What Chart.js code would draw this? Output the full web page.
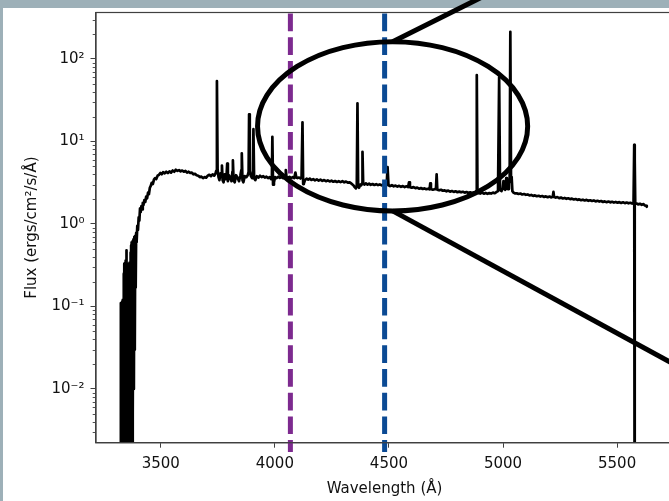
<!DOCTYPE html>
<html><head><meta charset="utf-8">
<script src="https://cdn.jsdelivr.net/npm/chart.js@4.4.0/dist/chart.umd.min.js"></script>
<style>
html,body{margin:0;padding:0;overflow:hidden;background:#9db0b8;width:669px;height:501px}
canvas{position:absolute;left:0;top:0}
</style></head><body>
<canvas id="c" width="700" height="501"></canvas>
<script>
// ---- data: [wavelength (Å), flux] ----
const SPECTRUM_BLUE = [
[3324,1e-5],[3325,0.11],[3326.5,1e-5],[3328,0.105],[3329.5,1e-5],[3331,0.115],[3332.5,1e-5],[3334,0.12],[3335.5,1e-5],[3337,0.25],
[3338.5,1e-5],[3340,0.33],[3341.5,1e-5],[3343,0.3],[3344.5,1e-5],[3346,0.36],[3347.5,1e-5],[3349,0.48],[3350.5,1e-5],[3352,0.33],
[3353.5,1e-5],[3355,0.31],[3356.5,1e-5],[3358,0.32],[3359.5,1e-5],[3361,0.3],[3362.5,1e-5],[3364,0.34],[3365.5,1e-5],[3367,0.45],
[3368.5,1e-5],[3370,0.55],[3371.5,1e-5],[3373,0.6],[3374.5,1e-5],[3376,0.62],[3378,0.005],[3380,0.65],[3382,0.01],[3384,0.7],
[3386,0.03],[3388,0.72],[3390,0.17],[3392,0.78],[3394,0.6],[3397,0.95],[3400,0.85],[3403,1.2],[3406,1.1],[3409,1.55],
[3412,1.4],[3415,1.65],[3418,1.5],[3421,1.8],[3424,1.7],[3428,1.95],[3432,1.85],[3436,2.15],[3440,2.05],[3444,2.4],
[3448,2.3],[3452,2.75],[3456,2.9],[3460,3.15],[3465,3.05],[3470,3.45],[3475,3.6],[3480,3.5],[3486,3.85],[3492,3.95]
];
const SPECTRUM_BALMER = [
[3498,4.15],[3504,4.0],[3510,4.25],[3517,4.1],[3524,4.3],[3531,4.15],[3538,4.35],[3545,4.2],[3552,4.45],[3559,4.3],
[3566,4.55],[3573,4.4],[3580,4.5],[3587,4.35],[3594,4.45],[3601,4.3],[3608,4.4],[3615,4.2],[3622,4.3],[3629,4.15],
[3636,4.2],[3643,4.0],[3650,4.05],[3657,3.9],[3664,3.85],[3671,3.7],[3678,3.75],[3685,3.6],[3692,3.7],[3699,3.65],
[3706,3.85],[3713,3.95],[3720,3.8],[3727,4.0],[3734,3.85],[3740,4.1],[3743,4.4],[3746,54],[3749,4.6],[3753,3.7],
[3757,3.4],[3762,4.1],[3766,3.9],[3768,5.1],[3771,3.4],[3775,3.2],[3780,4.0],[3785,3.5],[3789,4.2],[3791,5.4],
[3794,3.3],[3799,3.9],[3805,3.6],[3810,3.3],[3814,4.3],[3816,5.9],[3819,3.4],[3824,3.2],[3830,3.9],[3837,3.6],
[3843,3.3],[3849,3.9],[3853,4.5],[3855,7.2],[3858,3.4],[3862,3.2],[3868,3.8],[3875,3.7],[3881,3.9],[3885,4.3],
[3887,21.4],[3890,4.4],[3895,3.8],[3900,3.6],[3904,4.2],[3906,14.1],[3909,3.6],[3914,3.4],[3921,3.8],[3928,3.65],
[3935,3.85],[3942,3.7],[3949,3.8],[3956,3.65],[3963,3.75],[3970,3.6],[3977,3.7],[3983,3.5],[3987,3.7],[3989,11.4],
[3992,3.0],[3996,3.2]
];
const SPECTRUM_MID = [
[4001,3.7],[4008,3.6],[4015,3.75],[4022,3.62],[4029,3.7],[4036,3.6],[4042,3.7],[4046,3.85],[4048,4.5],[4051,3.7],
[4057,3.62],[4064,3.72],[4071,3.6],[4078,3.7],[4085,3.6],[4090,4.2],[4094,3.65],[4099,3.6],[4106,3.66],[4112,3.56],
[4117,3.65],[4121,17.1],[4124,3.05],[4127,3.1],[4132,3.4],[4139,3.55],[4146,3.45],[4153,3.55],[4160,3.42],[4168,3.5],
[4176,3.38],[4184,3.47],[4192,3.36],[4200,3.44],[4208,3.33],[4216,3.41],[4224,3.3],[4232,3.38],[4240,3.28],[4248,3.35],
[4256,3.25],[4264,3.32],[4272,3.23],[4280,3.3],[4288,3.22],[4296,3.3],[4304,3.2],[4312,3.27],[4320,3.17],[4328,3.2],
[4336,3.08],[4344,2.95],[4350,2.8],[4355,2.7],[4359,2.85],[4362,29],[4365,2.85],[4369,2.75],[4374,3.0],[4379,2.95],
[4382,3.1],[4384,7.5],[4387,3.15],[4392,3.0],[4399,3.1],[4406,3.0],[4413,3.08],[4420,2.98],[4428,3.05],[4436,2.97],
[4444,3.04],[4452,2.96],[4460,3.02],[4468,2.94],[4476,3.0],[4483,2.93],[4490,2.98],[4494,4.9],[4498,2.95],[4505,2.88],
[4513,2.95],[4521,2.86],[4529,2.92],[4537,2.84],[4545,2.9],[4553,2.82],[4561,2.88],[4569,2.8],[4577,2.86],[4584,2.8],
[4588,3.2],[4592,2.8]
];
const SPECTRUM_RED = [
[4600,2.76],[4608,2.8],[4616,2.72],[4624,2.76],[4632,2.68],[4640,2.73],[4648,2.66],[4656,2.7],[4664,2.64],[4672,2.68],
[4678,2.63],[4681,3.1],[4684,2.65],[4692,2.6],[4700,2.64],[4706,2.65],[4709,4.0],[4712,2.6],[4720,2.56],[4728,2.6],
[4736,2.53],[4744,2.56],[4752,2.49],[4760,2.54],[4768,2.47],[4776,2.51],[4784,2.45],[4792,2.49],[4800,2.43],[4808,2.47],
[4816,2.42],[4824,2.46],[4832,2.4],[4840,2.44],[4848,2.38],[4856,2.42],[4864,2.37],[4872,2.41],[4879,2.36],[4882,2.5],
[4885,64],[4888,2.5],[4893,2.38],[4900,2.34],[4908,2.4],[4916,2.33],[4924,2.38],[4932,2.32],[4940,2.37],[4948,2.34],
[4956,2.4],[4964,2.36],[4972,2.45],[4978,2.5],[4983,60],[4987,2.6],[4993,2.5],[4999,2.7],[5002,3.3],[5005,2.7],
[5010,2.6],[5014,3.6],[5017,2.7],[5022,2.65],[5026,3.4],[5029,3.2],[5032,214],[5035,3.7],[5038,3.6],[5041,2.5],
[5046,2.4],[5052,2.35],[5060,2.36],[5068,2.31],[5076,2.34],[5084,2.28],[5092,2.31],[5100,2.26],[5108,2.28],[5116,2.22],
[5124,2.25],[5132,2.19],[5140,2.22],[5148,2.17],[5156,2.2],[5164,2.15],[5172,2.18],[5180,2.13],[5188,2.16],[5196,2.11],
[5204,2.15],[5212,2.1],[5218,2.14],[5221,2.45],[5224,2.12],[5230,2.09],[5238,2.12],[5246,2.06],[5254,2.09],[5262,2.04],
[5270,2.07],[5278,2.02],[5286,2.05],[5294,2.0],[5302,2.03],[5310,1.98],[5318,2.01],[5326,1.96],[5334,1.99],[5342,1.94],
[5350,1.97],[5358,1.93],[5366,1.96],[5374,1.91],[5382,1.94],[5390,1.9],[5398,1.93],[5406,1.88],[5414,1.91],[5422,1.87],
[5430,1.9],[5438,1.85],[5446,1.88],[5454,1.84],[5462,1.87],[5470,1.83],[5478,1.86],[5486,1.82],[5494,1.85],[5502,1.81],
[5510,1.84],[5518,1.8],[5526,1.83],[5534,1.79],[5542,1.82],[5550,1.78],[5558,1.81],[5566,1.77],[5572,1.8],[5575,9.1],
[5576.5,1e-5],[5578,6.0],[5579.5,1.76],[5585,1.78],[5592,1.73],[5600,1.76],[5608,1.71],[5616,1.74],[5622,1.68],[5627,1.66],
[5630,1.62]
];
const X_TICKS = [3500, 4000, 4500, 5000, 5500];
const X_TICK_LABELS = ['3500', '4000', '4500', '5000', '5500'];
const Y_TICKS = [0.01, 0.1, 1, 10, 100];
const Y_TICK_LABELS = ['10\u207B\u00B2', '10\u207B\u00B9', '10\u2070', '10\u00B9', '10\u00B2'];
const X_RANGE = [3216, 5745];
const Y_RANGE = [0.002234, 366];
const MARKER_WAVELENGTHS = [4068, 4481];
const MARKER_COLORS = ['#7d2a8f', '#0b4a94'];
const MARKER_BOTTOM = 0.00172;
const ZOOM_ELLIPSE = { x0: 3924, x1: 5108, y0: 1.44, y1: 162 };
const CONNECTOR_TARGETS = [[4882, 519], [5728, 0.0215]];

const SPECTRUM = SPECTRUM_BLUE.concat(SPECTRUM_BALMER, SPECTRUM_MID, SPECTRUM_RED);

const FONT = { family: 'DejaVu Sans', size: 15 };
const AX = '#404040';

const deco = {
  id: 'deco',
  beforeDraw(chart) {
    const { ctx, width, height } = chart;
    ctx.save();
    ctx.fillStyle = '#9db0b8'; ctx.fillRect(0, 0, width, height);
    ctx.fillStyle = '#ffffff'; ctx.fillRect(3, 8, width, height);
    ctx.restore();
  },
  afterDatasetsDraw(chart) {
    const { ctx, chartArea: a, scales: { x, y } } = chart;
    ctx.save();
    MARKER_WAVELENGTHS.forEach((w, i) => {
      const px = x.getPixelForValue(w);
      ctx.strokeStyle = MARKER_COLORS[i];
      ctx.lineWidth = 5;
      ctx.setLineDash([17.7, 6]);
      ctx.beginPath();
      ctx.moveTo(px, a.top + 1);
      ctx.lineTo(px, y.getPixelForValue(MARKER_BOTTOM));
      ctx.stroke();
    });
    ctx.setLineDash([]);
    ctx.strokeStyle = AX; ctx.lineWidth = 0.9;
    for (let e = -3; e <= 2; e++) {
      for (let k = 2; k <= 9; k++) {
        const v = k * Math.pow(10, e);
        if (v < Y_RANGE[0] || v > Y_RANGE[1]) continue;
        const py = Math.round(y.getPixelForValue(v)) + 0.5;
        ctx.beginPath(); ctx.moveTo(a.left - 3.3, py); ctx.lineTo(a.left, py); ctx.stroke();
      }
    }
    ctx.lineWidth = 1.2;
    ctx.strokeRect(a.left, a.top, a.right - a.left, a.bottom - a.top);
    ctx.restore();
  },
  afterDraw(chart) {
    const { ctx, scales: { x, y } } = chart;
    const xl = x.getPixelForValue(ZOOM_ELLIPSE.x0), xr = x.getPixelForValue(ZOOM_ELLIPSE.x1);
    const yt = y.getPixelForValue(ZOOM_ELLIPSE.y1), yb = y.getPixelForValue(ZOOM_ELLIPSE.y0);
    const cx = (xl + xr) / 2, cy = (yt + yb) / 2;
    ctx.save();
    ctx.strokeStyle = '#000'; ctx.lineWidth = 5;
    ctx.beginPath(); ctx.ellipse(cx, cy, (xr - xl) / 2, (yb - yt) / 2, 0, 0, Math.PI * 2); ctx.stroke();
    const starts = [[cx, yt], [cx, yb]];
    CONNECTOR_TARGETS.forEach((t, i) => {
      const tx = x.getPixelForValue(t[0]), ty = y.getPixelForValue(t[1]);
      const [sx, sy] = starts[i];
      ctx.beginPath(); ctx.moveTo(sx, sy);
      ctx.lineTo(sx + (tx - sx) * 1.6, sy + (ty - sy) * 1.6); ctx.stroke();
    });
    ctx.restore();
  }
};

new Chart(document.getElementById('c'), {
  type: 'line',
  data: {
    datasets: [{
      data: SPECTRUM.map(p => ({ x: p[0], y: p[1] })),
      borderColor: '#000', borderWidth: 2.7, pointRadius: 0, tension: 0,
      fill: false, clip: 0, borderJoinStyle: 'round'
    }]
  },
  options: {
    responsive: false, animation: false, devicePixelRatio: 1,
    layout: { padding: { left: 0, top: 12.5, right: 27, bottom: 0 } },
    plugins: { legend: { display: false }, tooltip: { enabled: false } },
    scales: {
      x: {
        type: 'linear', min: X_RANGE[0], max: X_RANGE[1], bounds: 'data',
        afterBuildTicks: s => { s.ticks = X_TICKS.map(v => ({ value: v })); },
        afterFit: s => { s.height = 58.3; s.paddingLeft = 0; s.paddingRight = 0; },
        ticks: { callback: (v, i) => X_TICK_LABELS[i], font: FONT, color: '#111', padding: 7, maxRotation: 0, autoSkip: false },
        grid: { drawOnChartArea: false, drawTicks: true, tickLength: 5, tickColor: AX, tickWidth: 1 },
        border: { display: true, color: AX, width: 1.2 },
        title: { display: true, text: 'Wavelength (Å)', font: FONT, color: '#111', padding: { top: 0, bottom: 3 } }
      },
      y: {
        type: 'logarithmic', min: Y_RANGE[0], max: Y_RANGE[1], bounds: 'data',
        afterBuildTicks: s => { s.ticks = Y_TICKS.map(v => ({ value: v })); },
        afterFit: s => { s.width = 96; s.paddingTop = 0; s.paddingBottom = 0; },
        ticks: { callback: (v, i) => Y_TICK_LABELS[i], font: FONT, color: '#111', padding: 6, autoSkip: false },
        grid: { drawOnChartArea: false, drawTicks: true, tickLength: 5.5, tickColor: AX, tickWidth: 1 },
        border: { display: true, color: AX, width: 1.2 },
        title: { display: true, text: 'Flux (ergs/cm²/s/Å)', font: FONT, color: '#111', padding: { top: 23, bottom: 0 } }
      }
    }
  },
  plugins: [deco]
});
</script>
</body></html>
